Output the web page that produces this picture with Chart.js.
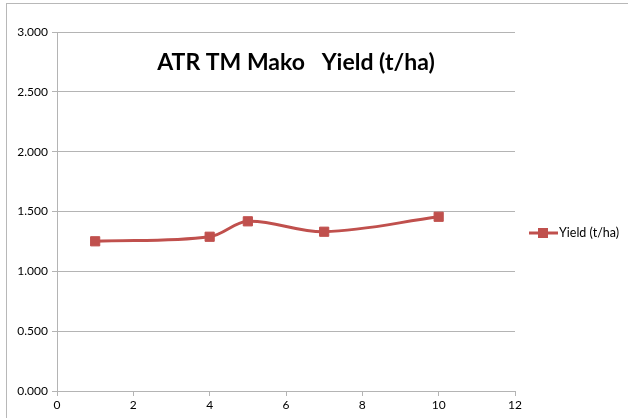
<!DOCTYPE html>
<html>
<head>
<meta charset="utf-8">
<script src="https://cdn.jsdelivr.net/npm/chart.js@4"></script>
<style>
  html, body { margin: 0; padding: 0; background: #fff; }
  #wrap { width: 628px; height: 418px; }
</style>
</head>
<body>
<div id="wrap"><canvas id="yieldChart" width="628" height="418"></canvas></div>
<script>
// Data
const seriesName = 'Yield (t/ha)';
const chartTitle = 'ATR TM Mako   Yield (t/ha)';
const xValues = [1, 4, 5, 7, 10];
const yieldValues = [1.251, 1.289, 1.418, 1.331, 1.456];
const xTicks = [0, 2, 4, 6, 8, 10, 12];
const yTicks = [0, 0.5, 1, 1.5, 2, 2.5, 3];

const lineRed = '#c0504d';
const gridGrey = '#b4b4b4';
const labelFont = { family: 'Lato, "Open Sans", sans-serif', size: 12 };

// Excel style outer border
const frame = {
  id: 'frame',
  beforeDraw(chart) {
    const ctx = chart.ctx;
    ctx.save();
    ctx.strokeStyle = '#b8b8b8';
    ctx.lineWidth = 1;
    ctx.strokeRect(6.5, 3.5, 700, 500);
    ctx.restore();
  }
};

// Title inside plot area + legend with line and marker
const extras = {
  id: 'extras',
  afterDraw(chart) {
    const ctx = chart.ctx;
    ctx.save();
    ctx.fillStyle = '#000';
    ctx.font = 'bold 23px Lato, "Open Sans", sans-serif';
    ctx.textAlign = 'center';
    ctx.textBaseline = 'middle';
    ctx.fillText(chartTitle, 296, 63);

    const ds = chart.data.datasets[0];
    const ly = 233;
    ctx.strokeStyle = ds.borderColor;
    ctx.lineWidth = ds.borderWidth;
    ctx.beginPath();
    ctx.moveTo(529, ly);
    ctx.lineTo(558, ly);
    ctx.stroke();
    ctx.fillStyle = ds.pointBackgroundColor;
    ctx.fillRect(538, ly - 5, 10, 10);
    ctx.fillStyle = '#000';
    ctx.font = '12.5px Lato, "Open Sans", sans-serif';
    ctx.textAlign = 'left';
    ctx.fillText(ds.label, 559, ly);
    ctx.restore();
  }
};

new Chart(document.getElementById('yieldChart'), {
  type: 'line',
  data: {
    datasets: [{
      label: seriesName,
      data: xValues.map((x, i) => ({ x: x, y: yieldValues[i] })),
      borderColor: lineRed,
      backgroundColor: lineRed,
      pointBackgroundColor: lineRed,
      pointBorderColor: lineRed,
      borderWidth: 3,
      pointStyle: 'rect',
      pointRadius: 6.5,
      pointBorderWidth: 1,
      tension: 0.35
    }]
  },
  options: {
    responsive: false,
    animation: false,
    events: [],
    layout: { padding: { left: 0, right: 113, top: 32, bottom: 0 } },
    plugins: { legend: { display: false }, title: { display: false }, tooltip: { enabled: false } },
    scales: {
      x: {
        type: 'linear',
        min: 0,
        max: 12,
        afterBuildTicks: axis => { axis.ticks = xTicks.map(v => ({ value: v })); },
        afterFit: axis => { axis.height = 27; },
        grid: { drawOnChartArea: false, color: gridGrey, tickLength: 5, tickColor: gridGrey },
        border: { color: gridGrey },
        ticks: { color: '#000', font: labelFont, padding: 2 }
      },
      y: {
        min: 0,
        max: 3,
        afterBuildTicks: axis => { axis.ticks = yTicks.map(v => ({ value: v })); },
        afterFit: axis => { axis.width = 57; },
        grid: { color: gridGrey, tickLength: 5, tickColor: gridGrey },
        border: { color: gridGrey },
        ticks: { color: '#000', font: labelFont, padding: 4, callback: v => v.toFixed(3) }
      }
    }
  },
  plugins: [frame, extras]
});
</script>
</body>
</html>
